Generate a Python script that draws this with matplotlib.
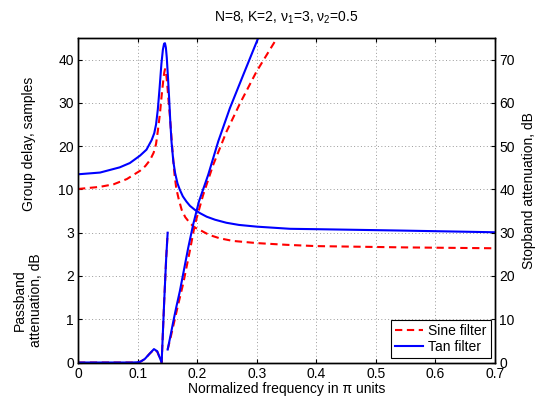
import matplotlib
matplotlib.use('Agg')
import matplotlib.pyplot as plt
import numpy as np

plt.rcParams['font.family'] = ['Liberation Sans', 'DejaVu Sans']
plt.rcParams['font.size'] = 10
plt.rcParams['mathtext.fontset'] = 'custom'
plt.rcParams['mathtext.rm'] = 'Liberation Sans'
plt.rcParams['mathtext.it'] = 'Liberation Sans:italic'

# Group delay, samples (upper part of the left axis)
freq_gd_tan = [0, 0.037, 0.07, 0.087, 0.104, 0.115, 0.1236, 0.128, 0.131, 0.134, 0.137,
               0.140, 0.1425, 0.1445, 0.146, 0.1475, 0.149, 0.151, 0.153, 0.155, 0.157,
               0.160, 0.163, 0.167, 0.171, 0.176, 0.182, 0.188, 0.196, 0.205, 0.216,
               0.23, 0.249, 0.27, 0.300, 0.356, 0.406, 0.54, 0.7]
gd_tan = [13.5, 13.9, 15.1, 16.1, 17.8, 19.2, 21.4, 23.0, 25.0, 28.5, 33.5,
          39.0, 42.3, 43.7, 43.8, 42.8, 40.5, 36.0, 31.0, 25.5, 21.0,
          16.5, 13.8, 11.4, 9.9, 8.4, 7.2, 6.2, 5.3, 4.5, 3.7,
          3.0, 2.3, 1.8, 1.4, 0.9, 0.8, 0.5, 0.1]

freq_gd_sine = [0, 0.037, 0.06, 0.082, 0.104, 0.113, 0.121, 0.127, 0.131, 0.134, 0.1376,
                0.1405, 0.1432, 0.1448, 0.146, 0.1475, 0.1495, 0.152, 0.1544, 0.158, 0.162,
                0.165, 0.169, 0.174, 0.18, 0.188, 0.196, 0.205, 0.22, 0.238, 0.26,
                0.300, 0.35, 0.40, 0.55, 0.7]
gd_sine = [10.1, 10.6, 11.2, 12.4, 14.3, 15.4, 16.8, 18.5, 20.5, 23.5, 27.6,
           31.8, 35.3, 37.0, 37.8, 37.3, 34.8, 30.5, 26.8, 19.9, 13.5,
           10.2, 7.8, 5.3, 3.6, 2.2, 1.2, 0.6, -0.5, -1.3, -1.9,
           -2.4, -2.8, -3.1, -3.4, -3.6]

# Passband attenuation, dB (lower part of the left axis)
freq_pb = [0, 0.09, 0.1, 0.105, 0.112, 0.12, 0.1275, 0.133, 0.137, 0.1404, 0.1448, 0.148, 0.1505]
pb_sine = [0, 0, 0.005, 0.02, 0.08, 0.2, 0.30, 0.25, 0.12, 0.0, 1.45, 2.4, 3.0]
pb_tan = [0, 0, 0.005, 0.02, 0.08, 0.2, 0.31, 0.26, 0.12, 0.0, 1.45, 2.4, 3.0]

# Stopband attenuation, dB (right axis)
freq_sb_sine = [0.1505, 0.155, 0.160, 0.168, 0.1767, 0.188, 0.196, 0.210, 0.227, 0.2494,
                0.272, 0.2995, 0.3305, 0.34]
sb_sine = [3.0, 5.5, 8.5, 13.3, 18.3, 26.0, 31.8, 38.7, 45.7, 53.4,
           59.9, 67.2, 74.2, 76.5]
freq_sb_tan = [0.1505, 0.155, 0.160, 0.165, 0.171, 0.178, 0.185, 0.1935, 0.203, 0.2186,
               0.2354, 0.255, 0.2775, 0.3025, 0.31]
sb_tan = [3.0, 6.0, 9.5, 12.8, 16.5, 21.5, 26.5, 32.0, 37.2, 43.4,
          51.1, 58.8, 66.5, 75.0, 77.5]

left_ticks = [0, 1, 2, 3, 4, 5, 6, 7]
left_labels = ['0', '1', '2', '3', '10', '20', '30', '40']
right_ticks = [0, 10, 20, 30, 40, 50, 60, 70]


def gd_to_axis(gd):
    # group delay 10..40 sits on axis positions 4..7
    return 3 + np.asarray(gd) / 10.0


red = '#ff0000'
blue = '#0000ff'
dash = (0, (3.5, 2.2))

fig = plt.figure(figsize=(5.37, 4.0), dpi=100)
ax = fig.add_axes([78 / 537, 37.5 / 400, 417 / 537, 324.5 / 400])
ax2 = ax.twinx()

ax.plot(freq_gd_sine, gd_to_axis(gd_sine), color=red, lw=1.5, ls=dash)
ax.plot(freq_gd_tan, gd_to_axis(gd_tan), color=blue, lw=1.5)
ax.plot(freq_pb, pb_sine, color=red, lw=1.5, ls=dash)
ax.plot(freq_pb, pb_tan, color=blue, lw=1.5)

l1, = ax2.plot(freq_sb_sine, sb_sine, color=red, lw=1.5, ls=dash, label='Sine filter')
l2, = ax2.plot(freq_sb_tan, sb_tan, color=blue, lw=1.5, label='Tan filter')

ax.set_xlim(0, 0.7)
ax.set_ylim(0, 7.5)
ax2.set_ylim(0, 75)
ax.set_xticks(np.arange(0, 0.71, 0.1))
ax.set_xticklabels(['0', '0.1', '0.2', '0.3', '0.4', '0.5', '0.6', '0.7'])
ax.set_yticks(left_ticks)
ax.set_yticklabels(left_labels)
ax2.set_yticks(right_ticks)

ax.grid(True, color='#9a9a9a', ls=(0, (1, 2.5)), lw=0.7)
ax.tick_params(direction='in', length=3, width=0.8, top=True, pad=3)
ax2.tick_params(direction='in', length=3, width=0.8, pad=3)
for a in (ax, ax2):
    for s in a.spines.values():
        s.set_linewidth(1.0)
        s.set_color('k')

ax.set_title('N=8, K=2, ν$_1$=3, ν$_2$=0.5', pad=12, fontsize=10)
ax.set_xlabel('Normalized frequency in π units', labelpad=1)
ax2.set_ylabel('Stopband attenuation, dB')
ax2.yaxis.set_label_coords(1.064, 0.53)

fig.text(29 / 537, 1 - 144 / 400, 'Group delay, samples', rotation=90,
         ha='center', va='center', fontsize=10)
fig.text(28 / 537, 1 - 300 / 400, 'Passband\nattenuation, dB', rotation=90,
         ha='center', va='center', multialignment='center', fontsize=10)

leg = ax2.legend(handles=[l1, l2], loc='lower right', borderaxespad=0.3,
                 handlelength=2.0, handletextpad=0.4, borderpad=0.3,
                 labelspacing=0.15, fancybox=False, framealpha=1, edgecolor='k')
leg.get_frame().set_linewidth(0.8)

fig.savefig('out.png', dpi=100)
